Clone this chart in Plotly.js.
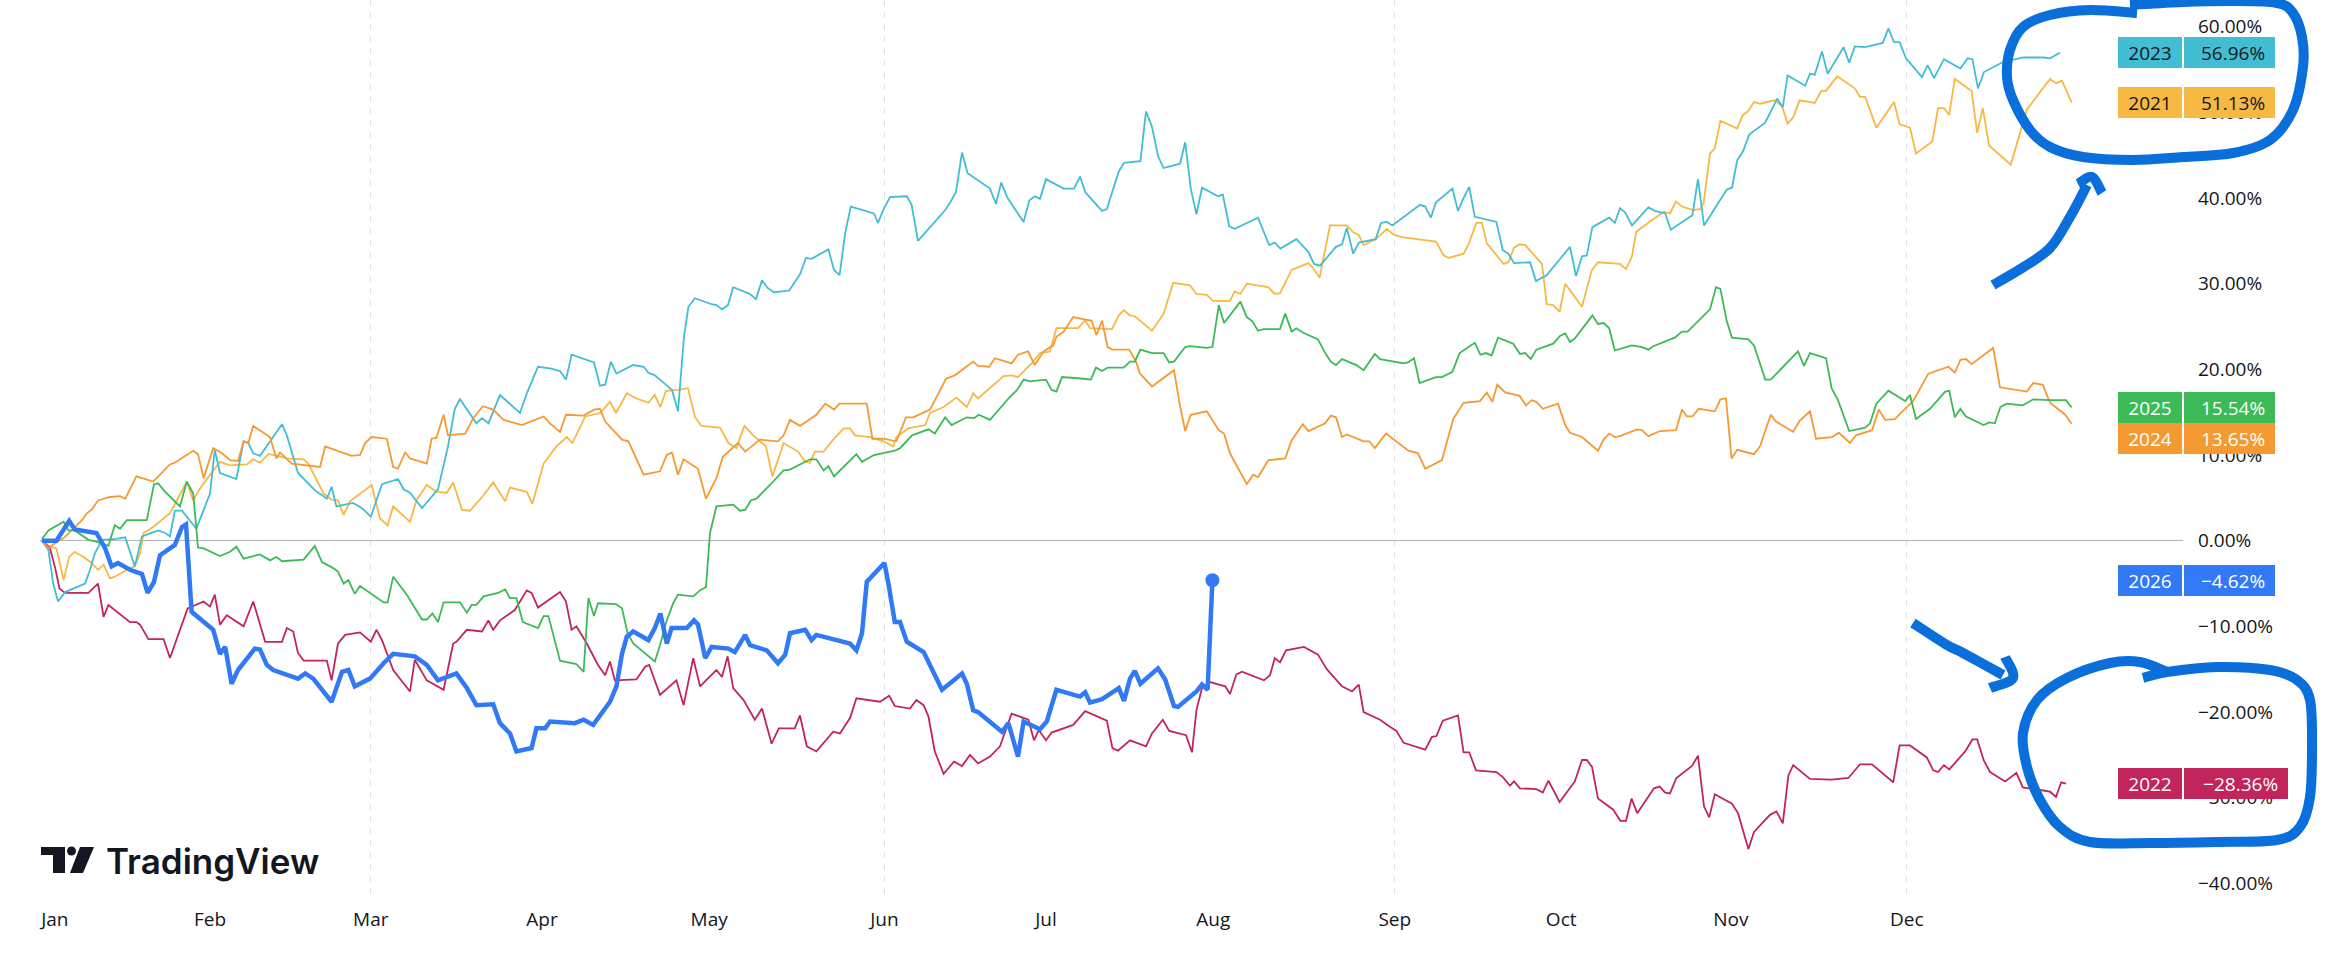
<!DOCTYPE html>
<html><head><meta charset="utf-8">
<script src="https://cdn.plot.ly/plotly-3.0.1.min.js"></script>
<style>html,body{margin:0;padding:0;background:#fff;}#chart{width:2334px;height:964px;}</style>
</head><body><div id="chart"></div>
<script>
// ---- axis data ----
const monthLabels = ['Jan','Feb','Mar','Apr','May','Jun','Jul','Aug','Sep','Oct','Nov','Dec'];
const monthPos = [1.6,21,41.1,62.5,83.4,105.3,125.5,146.4,169.1,189.9,211.1,233.1];
const quarterPos = [41.1,105.3,169.1,233.1];
const yTicks = [-40,-30,-20,-10,0,10,20,30,40,50,60];

// ---- series: [trading day index, % change YTD] ----
const s2021 = [[0,0],[1,-0.7],[1.8,-0.9],[2.7,-4.6],[3.4,-1.9],[4.1,-1.3],[5.2,-1.9],[6.2,-2.6],[7,-3.4],[7.7,-2.8],[8.5,-4.4],[9.1,-4.2],[10.6,-3.4],[11.6,-3.0],[12.25,-1.5],[12.7,0.9],[13.9,1.6],[16,3.2],[16.8,4.6],[18.1,6.9],[18.9,4.7],[19.75,6.1],[21,7.7],[22.25,9.2],[23.5,8.8],[25.6,8.9],[26.4,9.5],[27.25,9.1],[28.3,10.1],[29.1,10.0],[30.6,9.6],[32.7,9.5],[33.3,9.0],[35.2,5.5],[36.2,4.8],[37,4.7],[37.7,3.0],[38.5,4.6],[41.2,6.5],[42.25,2.6],[43.2,1.8],[43.9,4.0],[46,2.2],[46.8,4.7],[48.1,6.5],[49.3,5.7],[50.6,5.6],[51.4,6.8],[52.5,3.6],[53.5,3.5],[55.2,5.3],[56.4,6.8],[57.9,4.6],[58.5,6.2],[60.6,5.7],[61.3,4.3],[62.7,9.0],[64.3,11.0],[65.6,12.1],[66.3,11.4],[67.9,14.5],[69,14.7],[69.75,14.9],[71,16.2],[71.75,14.9],[73.1,17.2],[74.3,16.6],[75.8,16.1],[76.6,17.0],[77.3,15.6],[78,17.5],[79.5,17.6],[80.75,17.8],[81.6,14.5],[82.4,13.4],[84.75,13.2],[85.8,11.4],[86.8,10.8],[87.8,13.4],[88.9,12.3],[89.75,11.6],[90.5,11.0],[91.3,7.5],[92.7,11.4],[94.5,10.4],[95.4,9.2],[96,9.1],[96.6,10.4],[97.7,10.4],[98.9,11.8],[100.2,13.1],[101,13.1],[101.6,12.3],[103.5,12.1],[105.2,11.6],[106.4,11.0],[106.8,12.1],[108.3,13.1],[110.4,13.5],[111,14.9],[112.7,15.6],[114.3,16.7],[115.6,15.6],[116.4,17.2],[117,16.6],[120.2,19.2],[121.2,19.3],[122,19.1],[123.9,20.9],[124.75,21.9],[126,22.1],[126.8,24.8],[129.5,24.8],[130.4,25.7],[131,24.8],[133.75,24.7],[134.6,26.3],[135.25,26.9],[136,26.3],[136.6,26.2],[138.75,24.5],[140.2,26.5],[141.4,30.1],[143.5,29.8],[144.3,28.8],[145.6,28.7],[146.4,28.0],[148.5,28.0],[149.1,29.1],[149.8,28.8],[150.6,30.0],[152,29.8],[153.25,29.6],[154.1,28.8],[154.75,28.9],[156.2,31.6],[158.3,32.4],[158.9,31.8],[159.7,30.7],[161,36.8],[163.1,36.8],[163.9,36.0],[164.6,35.7],[165.2,34.5],[166.75,35.2],[168.1,36.4],[169,35.7],[170.2,35.4],[174.25,34.9],[175.2,33.3],[175.8,33.0],[177.7,33.5],[178.4,34.8],[179.3,37.1],[180,37.1],[180.6,34.7],[182.7,32.3],[183.3,32.5],[184,34.2],[184.7,34.6],[185.4,34.5],[187.5,32.3],[188.1,27.6],[188.9,27.5],[189.7,26.7],[190.4,30.0],[192.5,27.3],[193.7,31.5],[194.5,32.5],[197.25,32.3],[198,31.7],[198.75,33.2],[199.3,36.1],[200.2,36.7],[202.7,38.4],[203.5,38.2],[204.25,39.6],[205,39.0],[206.4,38.6],[207.25,38.7],[207.7,39.4],[208.5,45.2],[209.1,45.8],[209.8,49.0],[211.9,48.1],[212.6,49.7],[213.25,50.1],[214,51.2],[214.75,51.0],[216.6,51.4],[217.5,50.7],[218.2,48.7],[218.9,49.4],[219.7,51.4],[221.6,51.1],[222.4,52.5],[223,52.5],[224.4,54.2],[226.6,52.8],[227.25,51.8],[227.9,51.8],[229.3,48.2],[231.5,51.2],[232.2,48.6],[233.5,48.2],[234.25,45.2],[236.3,46.6],[237,50.5],[237.75,50.5],[238.4,49.7],[239.1,53.9],[241.2,52.5],[241.9,47.6],[242.6,50.5],[243.4,46.1],[246.1,43.9],[248.1,50.3],[251,53.9],[251.75,53.4],[252.5,53.7],[253.7,51.13]];

const s2022 = [[0,0],[1,-0.9],[1.6,-3.0],[2.2,-5.6],[2.9,-6.1],[5.8,-6.1],[7,-5.0],[7.7,-8.9],[8.3,-7.5],[11,-9.5],[11.8,-9.5],[12.25,-9.8],[13.3,-11.5],[15.2,-11.5],[16,-13.7],[17.25,-10.4],[18.2,-7.9],[20.2,-7.1],[21,-7.7],[21.6,-6.3],[22.25,-9.8],[23.1,-8.7],[25.2,-10.0],[26.4,-7.1],[27.9,-11.8],[30,-11.8],[30.6,-10.2],[31.4,-10.6],[32,-13.1],[32.7,-14.0],[35.6,-14.0],[36.2,-16.3],[37,-12.0],[37.9,-11.0],[39.75,-10.7],[41.1,-11.8],[41.8,-10.4],[42.5,-11.6],[43.9,-15.1],[46,-17.6],[46.6,-13.9],[48.1,-16.3],[50.2,-17.4],[51.4,-12.0],[51.8,-11.8],[53.1,-10.4],[55,-10.6],[55.8,-9.3],[56.4,-10.4],[57.25,-9.3],[59.1,-8.1],[60.6,-5.8],[61.2,-6.1],[62,-7.8],[64.75,-6.0],[65.5,-7.1],[66.2,-10.4],[66.8,-10.0],[68.1,-12.0],[69.5,-14.5],[70.4,-15.7],[71,-14.1],[71.6,-16.3],[74.3,-16.2],[75.4,-14.7],[75.9,-14.5],[77.25,-18.0],[79.3,-16.3],[80.2,-19.2],[81.4,-13.7],[82.25,-17.0],[84.3,-15.1],[85,-15.9],[85.7,-13.5],[86.4,-17.2],[87.7,-18.6],[89.1,-20.9],[90,-19.6],[91.2,-23.7],[92.1,-21.9],[94.1,-21.9],[94.75,-20.4],[95.6,-24.0],[96.8,-24.6],[98.9,-22.3],[99.75,-22.5],[101,-20.7],[101.8,-18.4],[104.75,-18.8],[105.9,-18.1],[106.6,-19.3],[108.5,-19.6],[109.3,-18.6],[110.2,-19.2],[110.8,-20.5],[111.6,-24.6],[112.7,-27.2],[114,-25.8],[115,-26.3],[116,-25.0],[117,-26.0],[118.5,-25.2],[119.75,-24.0],[121.2,-20.2],[123.3,-20.9],[124,-23.3],[124.6,-22.1],[125.5,-23.3],[126.2,-22.4],[128.9,-21.5],[130.4,-19.9],[133.1,-21.0],[133.8,-24.2],[134.5,-24.5],[136,-23.3],[138,-24.0],[138.75,-22.5],[140.1,-20.9],[140.9,-22.2],[143,-22.7],[143.75,-24.7],[144.3,-19.8],[145,-17.2],[146,-16.5],[147.9,-17.0],[148.5,-17.9],[149.3,-15.6],[150,-15.3],[152.75,-16.3],[153.5,-15.7],[154.1,-13.7],[154.75,-14.2],[155.5,-12.8],[157.75,-12.4],[159.5,-13.3],[160.6,-15.0],[162.5,-17.0],[163.75,-17.6],[164.6,-16.8],[165.2,-20.0],[167.25,-20.9],[168.3,-21.6],[169.3,-22.2],[170.2,-23.6],[172.9,-24.4],[173.75,-22.9],[174.3,-22.8],[175.1,-21.0],[177,-20.4],[177.7,-24.7],[178.4,-24.7],[179.25,-26.8],[181.8,-27.0],[182.6,-27.6],[183.5,-28.6],[184,-28.1],[184.75,-28.9],[186.8,-29.0],[187.6,-29.4],[188.3,-28.0],[189.7,-30.5],[191.6,-28.1],[192.5,-25.6],[193.1,-25.6],[193.75,-26.4],[194.5,-30.1],[196.4,-31.4],[197.3,-32.7],[198,-32.7],[198.7,-30.1],[199.4,-31.8],[201.5,-28.9],[202.2,-28.7],[202.9,-29.4],[203.5,-29.5],[204.3,-27.7],[206.25,-26.3],[207,-25.1],[207.75,-31.0],[208.4,-32.3],[209.1,-29.6],[211.25,-30.7],[212,-31.8],[213.3,-36.0],[214,-34.0],[216,-32.0],[216.8,-31.6],[217.6,-33.0],[218.3,-27.4],[218.9,-26.2],[221,-27.8],[223.7,-27.9],[225.8,-27.7],[227.25,-26.1],[228.75,-26.1],[231.4,-28.2],[232.2,-23.9],[233.5,-23.9],[235.6,-25.3],[236.4,-26.8],[237,-27.0],[237.75,-26.2],[238.4,-26.7],[240.4,-24.6],[241.3,-23.2],[241.9,-23.2],[242.7,-25.6],[243.5,-27.0],[245.4,-28.1],[246.8,-27.1],[247.6,-28.8],[249.75,-29.1],[251,-29.3],[251.75,-29.9],[252.4,-28.2],[253,-28.36]];

const s2023 = [[0,0],[0.8,-1.1],[1.4,-5.0],[2,-7.1],[2.9,-6.0],[5.4,-5.0],[6,-3.4],[6.6,-1.5],[7.5,0.1],[9.3,0.2],[10.4,0.4],[11.6,-3.0],[12.5,0.5],[14.5,1.2],[15.4,0.9],[16,0.5],[16.6,3.5],[17.5,3.5],[19.3,1.4],[21,5.5],[21.6,10.6],[22.25,7.9],[24.3,7.2],[25.2,11.6],[25.8,11.4],[26.4,10.2],[27.25,9.9],[30,13.6],[30.6,12.3],[32,7.9],[34.1,5.9],[35.6,4.9],[36.2,6.3],[36.8,4.0],[38.9,4.4],[40,3.8],[41.1,2.8],[42.5,6.6],[44.5,7.2],[45.2,6.0],[46,5.6],[47.5,3.8],[49.5,6.0],[50.2,9.0],[50.75,11.0],[51.6,15.4],[52.25,16.5],[54.3,13.7],[55,14.3],[55.8,13.7],[57.25,17.0],[59.75,14.9],[60.6,17.2],[62,20.3],[63.5,20.1],[64.75,19.8],[65.5,18.8],[66.2,21.7],[69,20.8],[69.75,18.1],[70.4,18.2],[71.1,20.9],[71.8,19.5],[73.9,20.5],[75.2,20.3],[75.8,19.6],[76.6,19.3],[78.75,17.6],[79.5,15.1],[80.25,23.8],[80.8,27.3],[81.6,28.3],[83.7,27.6],[84.3,27.5],[85,27.0],[85.75,27.5],[86.4,29.6],[88.5,28.8],[89.25,28.2],[90,30.4],[90.7,29.5],[91.5,29.0],[93.4,29.2],[94.75,31.1],[95.5,33.0],[96.2,32.9],[98.3,34.0],[99,31.6],[99.7,31.0],[100.4,35.9],[101.1,39.0],[104,38.2],[104.5,37.1],[105.25,38.8],[106,40.1],[108.1,40.2],[108.7,39.2],[109.5,35.0],[112.9,38.6],[113.6,39.6],[114.25,40.7],[115,45.3],[115.7,42.9],[118.5,41.1],[119.25,39.3],[119.9,41.8],[120.7,40.0],[122.7,37.2],[123.4,39.7],[124.1,40.2],[124.75,39.9],[125.5,42.2],[127.7,41.1],[129,41.1],[129.75,42.5],[130.4,40.7],[132.5,38.5],[133.1,38.7],[134.6,43.1],[135.25,44.1],[137.3,44.3],[138,50.1],[138.75,48.3],[139.5,44.9],[140.2,43.5],[142.25,44.0],[142.9,46.5],[143.6,41.1],[144.3,38.1],[145,41.2],[147,40.2],[147.6,40.4],[148.4,36.7],[149.1,36.4],[152,37.7],[153.4,34.5],[154.1,34.8],[154.8,34.1],[156.8,35.2],[158.3,33.7],[159,32.3],[159.75,32.1],[161.75,34.3],[162.5,34.6],[163.1,36.5],[163.9,33.5],[164.6,34.8],[166.7,35.2],[167.4,37.1],[168.1,37.2],[168.8,36.8],[172.25,39.2],[172.9,39.0],[173.6,37.7],[174.25,39.5],[176.3,41.1],[177,38.5],[177.7,40.0],[178.4,41.3],[179.1,37.8],[181.8,37.2],[182.6,33.9],[183.3,33.5],[184,32.4],[186,32.5],[186.75,30.3],[188.1,31.0],[191,34.3],[191.75,30.9],[192.5,33.2],[193.1,33.3],[193.8,36.6],[195.9,37.7],[196.6,37.1],[197.25,38.8],[197.9,38.3],[198.75,36.8],[200.8,38.9],[201.6,38.5],[202.9,38.2],[203.6,36.3],[206.3,38.0],[207,42.2],[207.75,36.8],[210.6,41.0],[211.25,41.2],[211.9,44.4],[212.6,45.4],[213.4,47.4],[215.4,48.8],[216.9,51.6],[217.6,50.6],[218.2,54.3],[220.4,53.1],[221,54.5],[221.6,54.4],[222.5,57.1],[223.2,54.5],[225.2,57.6],[225.9,55.8],[226.6,57.7],[227.9,57.6],[230.1,58.1],[230.8,59.8],[231.5,58.2],[232.2,58.2],[233,56.3],[235,54.1],[235.7,55.5],[236.5,54.0],[237.75,56.2],[239.8,55.1],[240.7,56.3],[241.3,56.2],[242,52.8],[242.75,54.7],[245.2,55.9],[247.7,56.4],[250.2,56.4],[251,56.3],[252.25,56.96]];

const s2024 = [[0,0],[0.8,-0.9],[1.6,-0.3],[2.7,0.3],[3.7,1.2],[5,2.4],[5.6,3.2],[6.2,3.6],[7,4.7],[8.5,5.1],[9.75,5.2],[10.4,4.9],[11.8,7.5],[13.9,6.9],[14.75,7.7],[16,8.9],[16.6,9.1],[17.7,9.8],[18.9,10.5],[19.5,10.1],[20.2,7.3],[21.4,10.8],[22.5,10.2],[23.5,9.4],[24.5,9.3],[25.2,11.6],[25.8,11.4],[26.4,13.4],[28.5,12.1],[29.3,9.6],[29.75,10.3],[31.2,9.0],[33.3,8.8],[34.75,8.6],[35.4,11.0],[37.5,10.3],[38.7,9.9],[39.75,10.0],[40.4,11.4],[41.2,12.1],[43.1,11.9],[43.9,8.6],[44.5,8.4],[45.4,10.3],[46,9.6],[48.1,9.0],[48.7,11.9],[49.3,12.0],[50.2,14.7],[50.75,12.3],[52.9,12.5],[53.9,14.3],[55.1,15.7],[56.4,15.3],[57.7,14.1],[60,13.5],[62.7,14.5],[63.5,13.7],[64.75,12.7],[65.5,14.7],[67.7,14.6],[69,15.3],[69.75,15.4],[70.4,13.9],[72.5,11.8],[73.3,11.6],[75.2,7.7],[77.25,8.1],[78.1,10.0],[78.75,10.3],[79.5,7.7],[80.2,9.5],[82,8.4],[83,4.9],[83.75,6.3],[84.3,7.3],[85.1,9.8],[87,11.4],[87.9,10.4],[89.75,11.8],[92,11.6],[92.7,12.3],[93.5,14.1],[94.75,13.4],[96.8,14.7],[97.9,16.0],[99,15.3],[99.7,16.0],[103.1,16.0],[103.8,11.9],[105.2,11.9],[106.8,11.6],[108,14.4],[108.9,14.4],[111,15.3],[113,18.9],[114.1,19.3],[116.4,20.9],[117,20.4],[118.4,20.3],[119.1,21.3],[121.2,20.7],[122,21.7],[123.25,22.1],[124.1,20.5],[125.2,22.1],[126.4,22.8],[126.8,23.8],[127.7,24.4],[128.9,26.1],[130.4,25.8],[131.2,25.7],[131.8,24.0],[132.5,25.7],[133.2,22.6],[133.8,22.3],[135.9,22.3],[136.75,20.9],[137.25,19.5],[138.75,18.0],[141.5,19.9],[142.2,16.0],[142.9,12.8],[143.6,14.7],[145.6,15.1],[147.1,12.9],[147.75,12.5],[148.5,10.2],[150.6,6.6],[151.4,7.7],[152,7.4],[153.3,9.4],[155.4,9.6],[156.2,11.7],[157.6,13.6],[158.3,12.8],[160.4,13.7],[161.1,14.6],[161.75,14.4],[162.5,12.1],[163.1,12.4],[165.2,11.6],[165.9,11.6],[166.6,10.8],[168,12.5],[170.8,10.5],[172,10.2],[172.9,8.4],[175,9.4],[176.4,14.2],[177.7,16.1],[179.75,16.3],[180.6,17.3],[181.3,16.2],[181.9,18.2],[182.9,17.3],[184.7,16.9],[185.5,15.8],[186.2,16.4],[186.8,16.2],[187.6,15.4],[189.5,16.0],[190.4,13.5],[191,12.6],[192.5,12.1],[194.5,10.5],[195.2,11.8],[195.9,12.5],[196.6,12.1],[197.25,12.2],[199.4,13.0],[200,12.9],[200.8,12.2],[202.25,12.8],[204.25,12.9],[205,15.3],[205.6,14.5],[206.3,14.5],[207.1,15.4],[209.1,15.1],[209.8,16.5],[210.5,16.6],[211.2,9.6],[211.9,10.6],[214,10.1],[214.75,11.0],[216.1,14.7],[216.75,13.9],[218.9,12.7],[219.7,14.0],[221,15.1],[221.75,11.9],[223.75,12.1],[224.6,12.6],[226,11.4],[226.75,12.3],[228.75,12.9],[229.6,15.3],[230.4,14.1],[231.6,14.2],[233.1,15.6],[233.9,16.3],[235.8,19.5],[238.3,20.3],[239.1,19.6],[239.8,21.1],[240.5,21.2],[241.2,20.6],[243.9,22.5],[244.75,17.9],[248.1,17.4],[248.9,18.4],[250.1,18.2],[251,16.1],[252.9,14.7],[253.7,13.65]];

const s2025 = [[0,0.2],[0.8,1.2],[2.7,2.2],[3.3,1.2],[4.1,1.2],[5.8,0.1],[6.8,-0.1],[8.3,-0.6],[9.1,1.8],[9.75,1.4],[10.6,2.4],[13.1,2.4],[14,6.6],[14.5,6.7],[15.4,5.7],[17.25,4.0],[18.1,6.9],[18.9,5.5],[19.5,-0.8],[20.2,-0.9],[22.25,-1.8],[23.5,-1.3],[24.3,-0.7],[25.2,-2.1],[27.25,-1.6],[28.5,-2.3],[29.3,-1.9],[30,-2.4],[32.7,-2.2],[34.1,-0.6],[35,-2.5],[36.4,-3.2],[37,-3.6],[37.7,-5.0],[38.3,-4.6],[39.1,-6.2],[39.75,-5.3],[42.7,-7.2],[43.2,-7.2],[43.9,-4.2],[45.6,-6.3],[47.5,-9.2],[48.1,-9.2],[48.8,-8.5],[49.5,-9.5],[50.2,-7.2],[52.25,-7.2],[53.1,-8.4],[53.7,-7.5],[54.3,-7.5],[55.2,-6.5],[57,-6.1],[57.9,-5.7],[58.5,-6.7],[59.3,-6.7],[60.1,-9.5],[62,-10.2],[62.7,-8.8],[63.3,-8.8],[64.75,-14.0],[66.8,-14.4],[67.7,-15.3],[68.3,-6.7],[69,-8.8],[69.5,-7.3],[71.75,-7.4],[72.5,-7.9],[73.2,-10.8],[73.9,-12.0],[76.6,-14.1],[77.25,-12.2],[78.1,-9.3],[78.9,-7.3],[79.5,-6.3],[81.4,-6.5],[82.25,-5.8],[83,-5.4],[83.5,0.9],[84.3,4.0],[86.4,4.2],[87.25,3.5],[87.9,3.6],[88.6,4.7],[89.3,4.9],[91,6.5],[91.8,7.3],[92.7,8.2],[93.5,8.3],[96,9.5],[96.8,9.5],[97.7,8.2],[98.3,8.7],[99,7.5],[101.8,10.1],[102.5,9.2],[104,10.0],[105.2,10.2],[106.6,10.5],[107.25,10.8],[108.75,12.3],[110.8,13.0],[111.6,12.5],[112.9,14.4],[113.7,13.5],[115.6,14.4],[116.5,14.3],[117.1,14.7],[118.5,14.1],[121,16.8],[121.9,17.6],[122.7,18.8],[123.5,18.6],[125.5,18.8],[126.2,17.6],[126.8,17.4],[127.5,19.1],[130.2,18.9],[131.1,18.8],[131.75,20.2],[132.5,19.8],[133.2,20.2],[135.2,20.2],[136,20.9],[136.6,20.9],[137.3,22.3],[138.75,21.9],[140.2,21.9],[140.9,20.8],[141.5,20.9],[142.9,22.6],[143.5,22.7],[145.6,22.5],[146.3,22.6],[147.1,27.5],[147.75,25.4],[149.8,27.9],[150.6,26.1],[151.3,25.6],[152,24.5],[152.7,24.7],[154.75,24.7],[155.4,26.5],[156.2,24.4],[156.8,24.8],[157.6,24.3],[159.5,23.5],[160.4,21.9],[161.1,20.9],[161.75,20.5],[162.5,21.2],[164.3,20.5],[165.2,19.9],[166.6,21.8],[167.25,21.2],[170.2,20.7],[170.75,20.8],[171.5,21.3],[172.2,18.4],[174.25,19.1],[175,19.1],[176.3,19.7],[177.2,21.9],[179.1,23.1],[179.8,21.7],[180.5,21.9],[181.2,21.6],[182,23.7],[183.9,23.0],[184.75,21.8],[185.4,21.9],[186.1,21.2],[186.8,22.3],[188.9,23.0],[189.75,23.9],[190.4,24.2],[191,23.2],[191.6,23.6],[193.8,26.3],[194.5,25.3],[195.2,25.4],[195.9,24.8],[196.6,22.2],[198.75,22.8],[200,22.6],[200.8,22.3],[201.4,22.7],[204.1,23.7],[205,24.4],[205.7,24.4],[208.5,27.0],[209.25,29.6],[209.8,29.4],[210.6,25.6],[211.25,23.7],[213.3,23.5],[214,22.8],[215.4,18.8],[216.1,18.8],[219.5,22.1],[220.25,20.4],[221,21.9],[223,21.3],[223.7,17.8],[224.5,16.4],[225.9,12.8],[227.9,13.2],[228.5,13.7],[229.3,16.0],[230.8,17.5],[232.9,16.3],[233.5,17.0],[234.25,14.2],[236,15.4],[237.9,17.4],[238.4,17.5],[239.1,14.4],[239.8,15.4],[240.5,14.5],[242.7,13.5],[243.4,13.8],[244.1,13.7],[244.8,15.6],[245.6,16.0],[247.6,15.8],[248.9,16.5],[251,16.4],[253,16.4],[253.7,15.54]];

const s2026 = [[0,0],[1.8,0],[3.4,2.3],[4.1,1.3],[6.8,0.9],[7.9,-0.9],[8.7,-3.0],[9.5,-2.6],[11,-3.4],[12.5,-3.9],[13.2,-6.1],[14,-4.8],[14.75,-1.7],[16.6,-0.5],[17.5,1.6],[18,1.9],[18.7,-8.3],[21.4,-10.4],[22.25,-13.2],[22.9,-12.4],[23.7,-16.7],[24.5,-15.1],[26.6,-12.6],[27.25,-12.7],[28.1,-14.5],[28.9,-15.1],[32,-16.1],[32.9,-15.5],[33.9,-16.1],[36.2,-18.8],[37.5,-15.3],[38.3,-15.1],[39.1,-17.0],[41,-16.1],[42.7,-14.3],[43.9,-13.2],[46.6,-13.5],[48.1,-14.5],[49.5,-16.3],[51.8,-15.5],[53.1,-17.2],[54.3,-19.2],[56.4,-19.1],[57.25,-21.3],[58.5,-22.5],[59.3,-24.6],[61.2,-24.2],[61.8,-21.9],[62.9,-21.9],[63.5,-21.1],[66.6,-21.3],[67.7,-20.9],[68.9,-21.5],[71,-18.8],[71.8,-17.0],[72.5,-13.2],[73.1,-11.2],[73.9,-10.6],[75.8,-11.6],[76.6,-10.2],[77.3,-8.5],[78.1,-12.0],[78.7,-10.2],[80.6,-10.2],[81.5,-9.3],[82,-9.8],[82.9,-13.7],[83.7,-12.4],[85.8,-12.6],[86.6,-13.0],[87.9,-11.0],[88.5,-12.2],[90.6,-12.8],[92,-14.3],[92.9,-13.3],[93.5,-10.8],[95.4,-10.4],[96.2,-11.6],[96.8,-11.0],[101,-12.0],[101.8,-12.8],[102.5,-10.8],[103.1,-4.8],[105.3,-2.6],[105.8,-5.0],[106.6,-9.5],[107.25,-9.5],[108.1,-11.8],[110.2,-13.0],[112.5,-17.4],[115,-15.5],[115.6,-16.7],[116.4,-19.8],[117,-20.0],[120,-22.3],[120.8,-21.3],[122,-25.2],[122.7,-21.1],[124.75,-22.0],[125.6,-21.1],[126.8,-17.4],[129.75,-18.2],[130.4,-17.7],[131,-18.9],[132.5,-18.5],[134.6,-17.2],[135.25,-18.7],[136,-16.1],[136.6,-15.2],[137.3,-16.7],[139.5,-14.9],[140.4,-16.2],[141.5,-19.3],[142,-19.4],[144.3,-17.6],[145,-16.8],[145.7,-17.4],[146.3,-4.62]];

// ---- styling ----
const seriesDefs = [
  {name:'2021', data:s2021, color:'#f7b844', tagText:'#131722', width:1.8},
  {name:'2022', data:s2022, color:'#c2255c', tagText:'#ffffff', width:1.8},
  {name:'2023', data:s2023, color:'#42bdd4', tagText:'#131722', width:1.8},
  {name:'2024', data:s2024, color:'#f59a33', tagText:'#ffffff', width:1.8},
  {name:'2025', data:s2025, color:'#3cba58', tagText:'#ffffff', width:1.8},
  {name:'2026', data:s2026, color:'#3179f5', tagText:'#ffffff', width:4.5}
];

const W = 2334, H = 964;
const L = 40, R = 2183, T = 0, B = 900;
const pxX = X => (X - L) / (R - L);
const pxY = Y => (B - Y) / (B - T);
const yMin = -41.94, yMax = 63.11;
const pxPerPct = (B - T) / (yMax - yMin);

const traces = seriesDefs.map(s => ({
  type:'scatter', mode:'lines', name:s.name,
  x:s.data.map(p=>p[0]), y:s.data.map(p=>p[1]),
  line:{color:s.color, width:s.width, shape:'linear'}, hoverinfo:'skip'
}));
const last26 = s2026[s2026.length-1];
traces.push({type:'scatter', mode:'markers', x:[last26[0]], y:[last26[1]],
  marker:{color:'#3179f5', size:14}, hoverinfo:'skip'});
traces.push({type:'scatter', mode:'lines', x:[null], y:[null], xaxis:'x2', hoverinfo:'skip'});

// ---- price tags ----
const fmt = v => (v < 0 ? '\u2212' : '') + Math.abs(v).toFixed(2) + '%';
const tagH = 31 / pxPerPct;
const tags = seriesDefs.map(s => ({s, v:s.data[s.data.length-1][1]})).sort((a,b)=>b.v-a.v);
let prev = Infinity;
tags.forEach(t => { t.pos = Math.min(t.v, prev - tagH); prev = t.pos; });
const annotations = [];
tags.forEach(t => {
  const txt = fmt(t.v);
  annotations.push({xref:'paper', yref:'y', x:pxX(2118), y:t.pos, xanchor:'left', yanchor:'middle',
    text:t.s.name, showarrow:false, bgcolor:t.s.color, width:64, height:31, borderpad:0, borderwidth:0,
    align:'center', font:{family:'Open Sans', size:19, color:t.s.tagText}});
  annotations.push({xref:'paper', yref:'y', x:pxX(2184), y:t.pos, xanchor:'left', yanchor:'middle',
    text:txt + '\u00a0\u00a0', showarrow:false, bgcolor:t.s.color, width:13*(txt.length+1), height:31, borderpad:0, borderwidth:0,
    align:'right', font:{family:'Open Sans', size:19, color:t.s.tagText}});
});
annotations.push({xref:'paper', yref:'paper', x:pxX(104), y:pxY(861), xanchor:'left', yanchor:'middle',
  text:'TradingView', showarrow:false, font:{family:'Inter', size:35, weight:600, color:'#131722'}});

// ---- hand-drawn marks and logo ----
function smooth(pts){
  const P = pts.map(p=>[pxX(p[0]), pxY(p[1])]);
  let d = 'M' + P[0][0] + ',' + P[0][1];
  for (let i=0;i<P.length-1;i++){
    const p0 = P[Math.max(i-1,0)], p1 = P[i], p2 = P[i+1], p3 = P[Math.min(i+2,P.length-1)];
    const c1 = [p1[0]+(p2[0]-p0[0])/6, p1[1]+(p2[1]-p0[1])/6];
    const c2 = [p2[0]-(p3[0]-p1[0])/6, p2[1]-(p3[1]-p1[1])/6];
    d += ' C'+c1[0]+','+c1[1]+' '+c2[0]+','+c2[1]+' '+p2[0]+','+p2[1];
  }
  return d;
}
function poly(pts){
  return 'M' + pts.map(p=>pxX(p[0])+','+pxY(p[1])).join(' L') + ' Z';
}
const penColor = '#0a6fdb';
const topLoop = [[2137,13],[2090,10],[2050,15],[2023,27],[2010,50],[2007,77],[2013,100],[2030,130],[2050,147],[2083,157],[2133,160],[2183,157],[2233,153],[2270,140],[2293,110],[2303,67],[2302,37],[2293,13],[2277,3],[2233,1],[2183,2],[2130,5]];
const topArrow = [[1993,285],[2022,268],[2050,248],[2070,217],[2087,185]];
const topHead = [[2078,184],[2092,177],[2102,193]];
const botArrow = [[1913,623],[1947,645],[1963,653],[2003,675]];
const botHead = [[2005,657],[2013,678],[1990,688]];
const botLoop = [[2167,672],[2140,662],[2110,663],[2067,678],[2037,700],[2023,733],[2027,767],[2040,800],[2060,827],[2090,842],[2150,843],[2217,842],[2277,840],[2300,827],[2310,797],[2312,747],[2310,700],[2297,680],[2270,670],[2217,667],[2167,672],[2143,678]];
const pen = d => ({type:'path', xref:'paper', yref:'paper', path:d, layer:'above', line:{color:penColor, width:10}});
const shapes = [
  pen(smooth(topLoop)), pen(smooth(topArrow)), pen(smooth(topHead)),
  pen(smooth(botArrow)), pen(smooth(botHead)), pen(smooth(botLoop)),
  {type:'path', xref:'paper', yref:'paper', path:poly([[41,847],[65,847],[65,873],[53,873],[53,855],[41,855]]), fillcolor:'#131722', line:{width:0}},
  {type:'circle', xref:'paper', yref:'paper', x0:pxX(67), x1:pxX(76), y0:pxY(855.5), y1:pxY(846.5), fillcolor:'#131722', line:{width:0}},
  {type:'path', xref:'paper', yref:'paper', path:poly([[80,847],[94,847],[83,873],[70,873]]), fillcolor:'#131722', line:{width:0}}
];

const xRange = [(L-42)/8, (R-42)/8];
const layout = {
  width:W, height:H, margin:{l:L, r:W-R, t:T, b:H-B, pad:0},
  paper_bgcolor:'#ffffff', plot_bgcolor:'#ffffff', showlegend:false,
  font:{family:'Open Sans', color:'#131722'},
  xaxis:{range:xRange, tickvals:monthPos, ticktext:monthLabels, showgrid:false, zeroline:false,
    showline:false, ticks:'', tickfont:{family:'Open Sans', size:19, color:'#131722'}, ticklabelstandoff:6, fixedrange:true},
  xaxis2:{range:xRange, overlaying:'x', tickvals:quarterPos, showticklabels:false, showgrid:true,
    gridcolor:'#dfe1e6', gridwidth:1, griddash:'6px,6px', zeroline:false, showline:false, ticks:''},
  yaxis:{range:[yMin,yMax], side:'right', tickvals:yTicks, ticktext:yTicks.map(fmt), showgrid:false,
    zeroline:true, zerolinecolor:'#b2b5be', zerolinewidth:1, showline:false, ticks:'',
    tickfont:{family:'Open Sans', size:19, color:'#131722'}, ticklabelstandoff:14, fixedrange:true},
  annotations, shapes
};
Plotly.newPlot('chart', traces, layout, {staticPlot:true, displayModeBar:false});
</script></body></html>
